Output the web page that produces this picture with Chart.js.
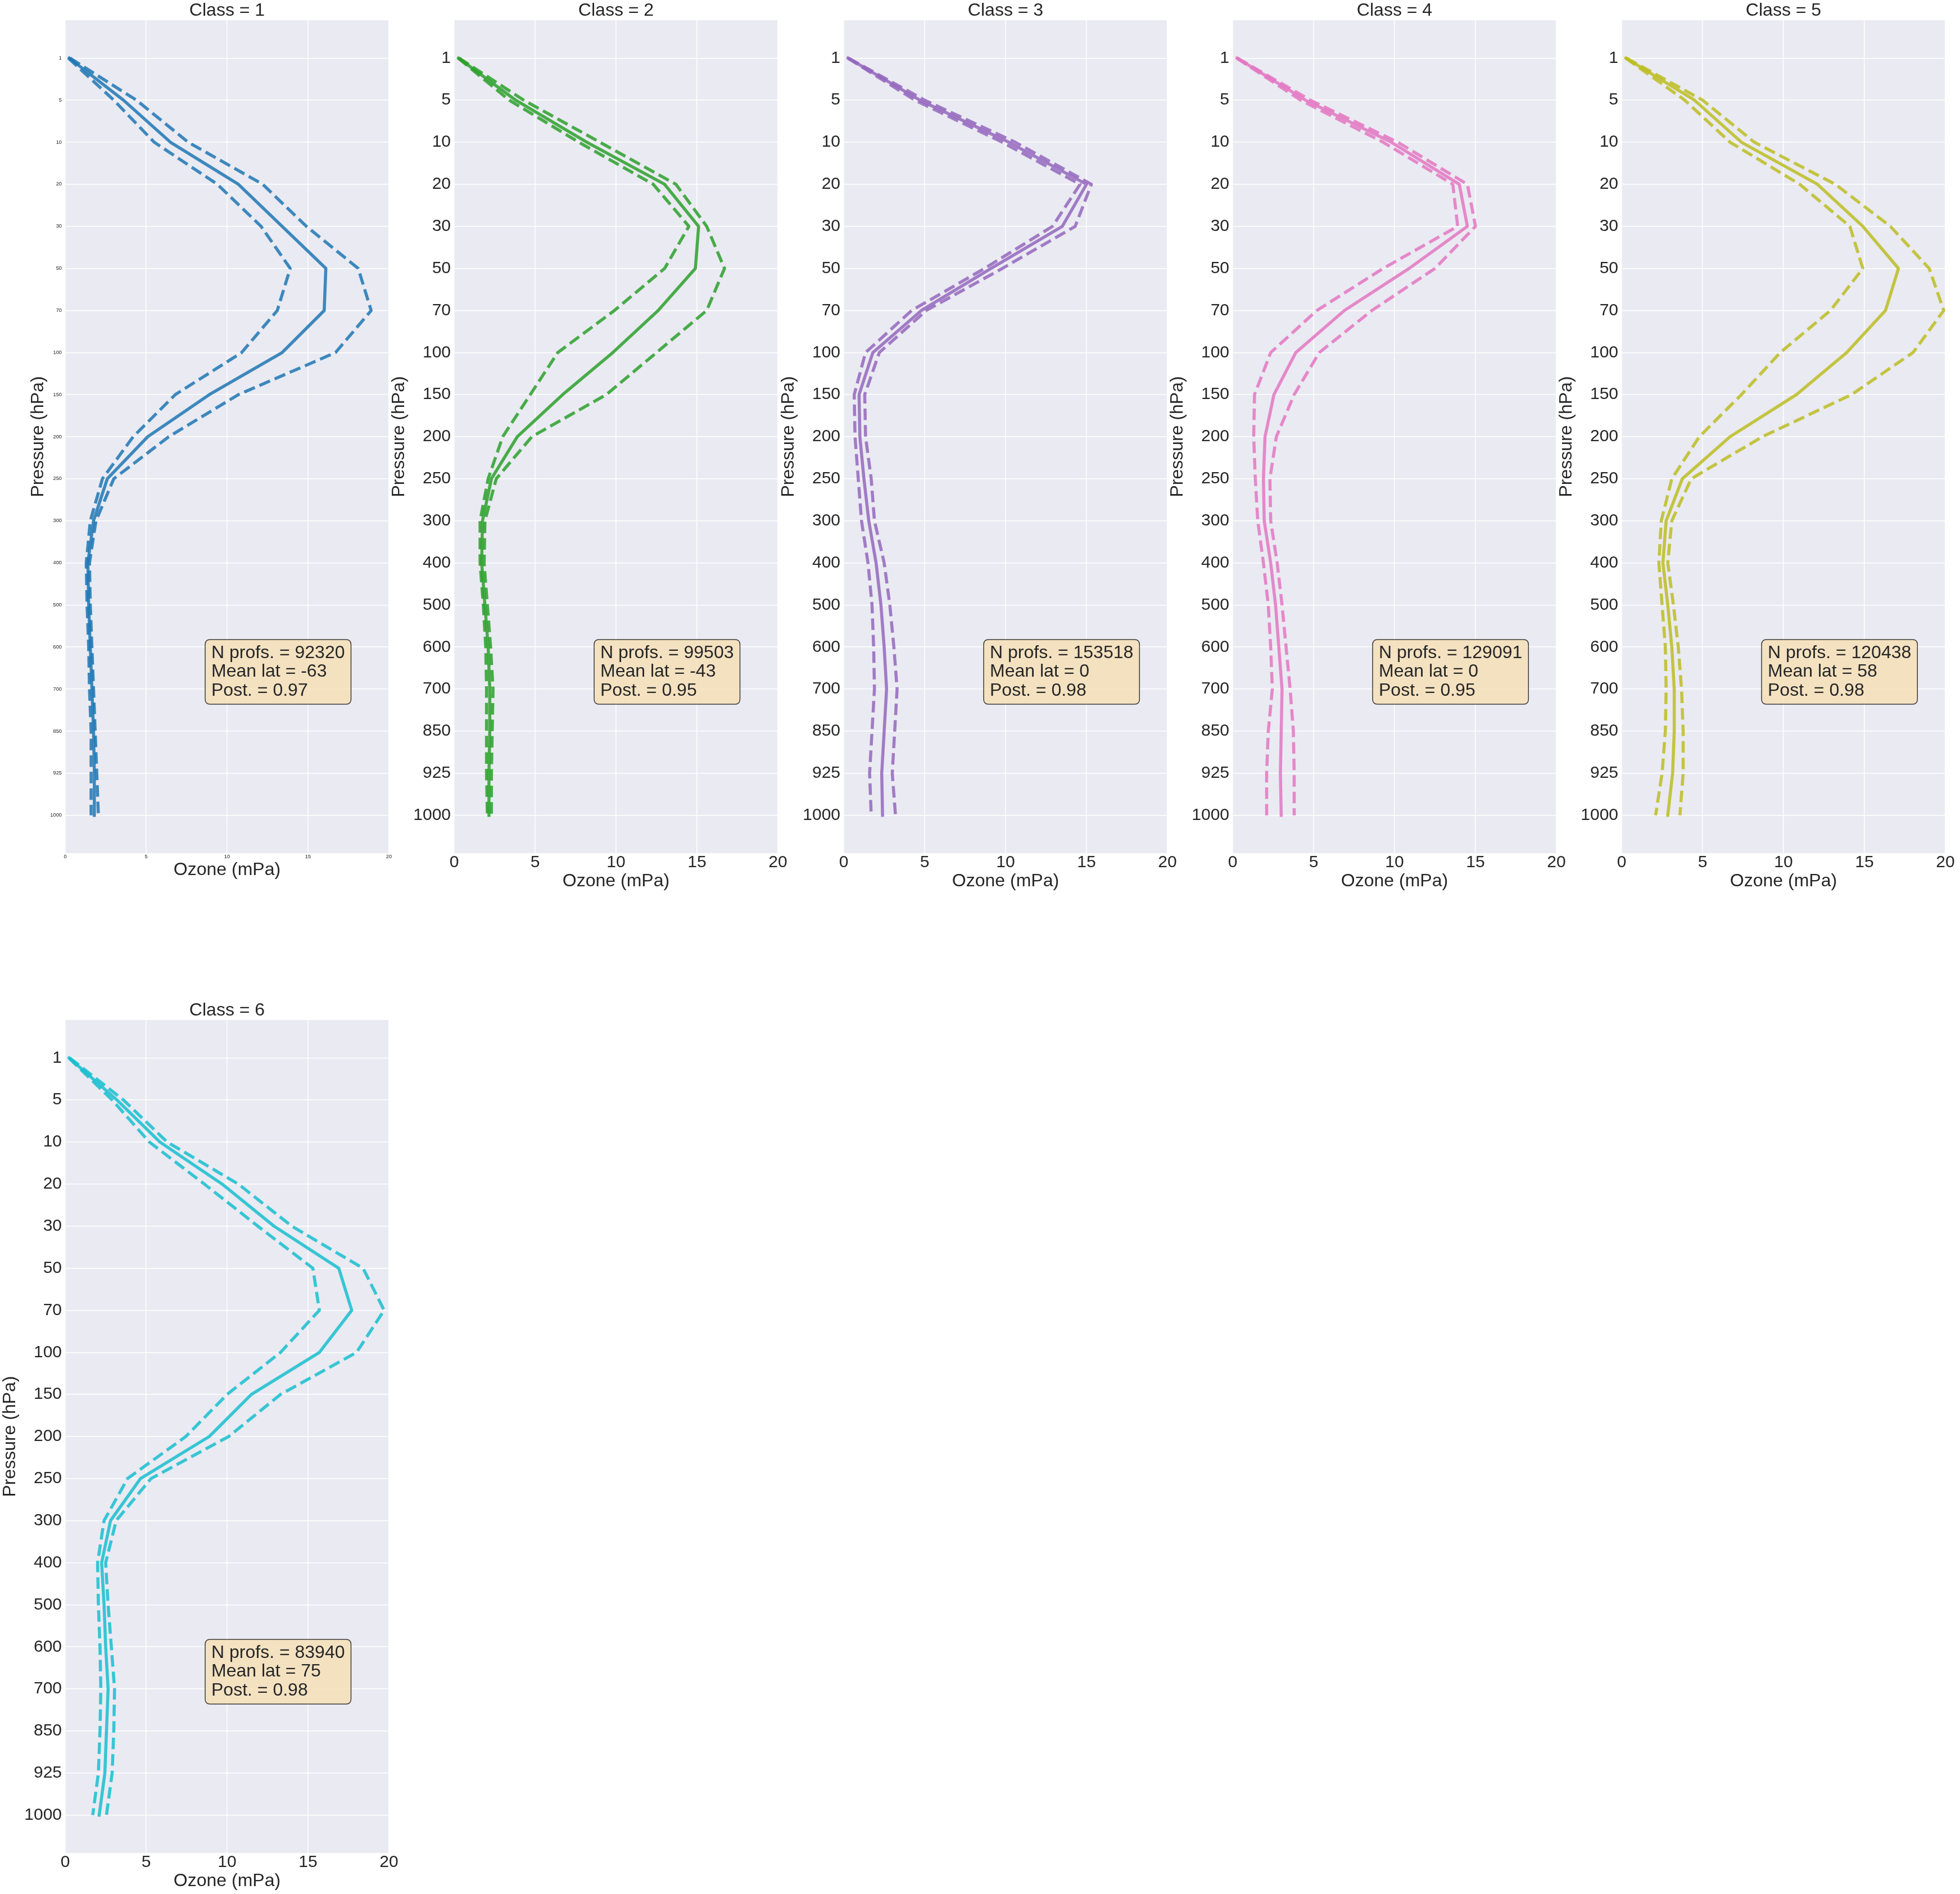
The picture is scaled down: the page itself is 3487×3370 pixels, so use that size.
<!DOCTYPE html>
<html>
<head>
<meta charset="utf-8">
<script src="https://cdn.jsdelivr.net/npm/chart.js@4.4.0/dist/chart.umd.min.js"></script>
<style>
html, body { margin:0; padding:0; background:#ffffff; width:3487px; height:3370px; overflow:hidden; position:relative; }
canvas { position:absolute; }
</style>
</head>
<body>
<script>
// ---------------- data ----------------
const pressureLevels = ['1','5','10','20','30','50','70','100','150','200','250','300','400','500','600','700','850','925','1000'];
const xTickValues = [0, 5, 10, 15, 20];
const classNames = ['1','2','3','4','5','6'];

const meanC1  = [0.25, 3.6, 6.5, 10.7, 13.4, 16.1, 16.0, 13.4, 8.9, 5.1, 2.6, 1.75, 1.4, 1.45, 1.55, 1.65, 1.75, 1.8, 1.8];
const lowerC1 = [0.2, 3.0, 5.5, 9.4, 12.1, 13.9, 13.1, 10.9, 6.8, 4.2, 2.3, 1.55, 1.3, 1.35, 1.45, 1.5, 1.6, 1.6, 1.6];
const upperC1 = [0.3, 4.4, 7.6, 12.2, 14.9, 18.1, 18.9, 16.7, 10.7, 6.4, 3.0, 1.9, 1.5, 1.55, 1.65, 1.75, 1.85, 1.95, 2.05];

const meanC2  = [0.27, 3.8, 8.2, 13.0, 15.1, 14.9, 12.6, 9.8, 6.7, 3.9, 2.3, 1.75, 1.7, 1.9, 2.1, 2.2, 2.2, 2.15, 2.15];
const lowerC2 = [0.25, 3.4, 7.7, 12.3, 14.5, 13.0, 9.9, 6.4, 4.7, 3.0, 2.1, 1.6, 1.6, 1.8, 1.95, 2.0, 2.0, 2.0, 2.05];
const upperC2 = [0.3, 4.3, 9.0, 13.7, 15.6, 16.7, 15.6, 12.5, 9.4, 4.8, 2.6, 1.9, 1.85, 2.05, 2.25, 2.4, 2.35, 2.3, 2.3];

const meanC3  = [0.27, 4.7, 10.2, 15.0, 13.5, 9.1, 4.8, 1.8, 0.95, 1.0, 1.25, 1.55, 2.0, 2.3, 2.5, 2.65, 2.5, 2.35, 2.4];
const lowerC3 = [0.25, 4.4, 9.8, 14.6, 12.9, 8.7, 4.2, 1.35, 0.65, 0.7, 0.9, 1.1, 1.5, 1.75, 1.85, 1.9, 1.75, 1.6, 1.7];
const upperC3 = [0.3, 5.0, 10.6, 15.3, 14.3, 9.8, 5.1, 2.2, 1.3, 1.35, 1.7, 1.9, 2.5, 2.85, 3.1, 3.3, 3.15, 3.0, 3.2];

const meanC4  = [0.27, 4.5, 9.8, 14.0, 14.5, 10.9, 6.9, 3.9, 2.55, 2.0, 1.9, 1.95, 2.35, 2.65, 2.85, 3.05, 3.0, 2.95, 3.0];
const lowerC4 = [0.25, 4.2, 9.3, 13.6, 13.9, 9.3, 5.2, 2.35, 1.35, 1.3, 1.4, 1.55, 1.9, 2.2, 2.35, 2.45, 2.2, 2.1, 2.1];
const upperC4 = [0.3, 4.8, 10.2, 14.5, 15.0, 12.5, 8.6, 5.35, 3.8, 2.7, 2.3, 2.35, 2.75, 3.05, 3.3, 3.55, 3.75, 3.8, 3.8];

const meanC5  = [0.26, 4.5, 7.4, 12.1, 14.9, 17.1, 16.3, 13.9, 10.8, 6.7, 3.75, 2.75, 2.55, 2.85, 3.1, 3.25, 3.25, 3.15, 2.85];
const lowerC5 = [0.25, 3.9, 6.7, 11.0, 14.1, 14.9, 12.9, 9.8, 7.4, 4.8, 3.1, 2.45, 2.3, 2.5, 2.7, 2.75, 2.7, 2.5, 2.1];
const upperC5 = [0.3, 5.0, 8.2, 13.2, 16.6, 19.0, 19.9, 18.0, 14.2, 8.7, 4.3, 3.1, 2.85, 3.2, 3.5, 3.7, 3.8, 3.8, 3.6];

const meanC6  = [0.24, 3.2, 5.85, 9.7, 12.9, 16.9, 17.7, 15.7, 11.5, 8.9, 4.65, 2.8, 2.25, 2.4, 2.5, 2.65, 2.55, 2.45, 2.1];
const lowerC6 = [0.22, 2.9, 5.2, 8.6, 11.9, 15.3, 15.7, 13.3, 10.0, 7.45, 3.85, 2.4, 2.0, 2.05, 2.15, 2.2, 2.15, 2.05, 1.7];
const upperC6 = [0.28, 3.6, 6.3, 10.7, 14.0, 18.4, 19.7, 18.0, 13.3, 10.1, 5.3, 3.15, 2.5, 2.65, 2.85, 3.05, 3.0, 2.9, 2.55];

const nProfs    = ['92320', '99503', '153518', '129091', '120438', '83940'];
const meanLat   = ['-63', '-43', '0', '0', '58', '75'];
const posterior = ['0.97', '0.95', '0.98', '0.95', '0.98', '0.98'];

const lineColors = ['#1f77b4', '#2ca02c', '#9467bd', '#e377c2', '#bcbd22', '#17becf'];

const meanSeries  = [meanC1, meanC2, meanC3, meanC4, meanC5, meanC6];
const lowerSeries = [lowerC1, lowerC2, lowerC3, lowerC4, lowerC5, lowerC6];
const upperSeries = [upperC1, upperC2, upperC3, upperC4, upperC5, upperC6];

// ---------------- layout ----------------
const PLOT_W = 576, PLOT_H = 1482;
const plotLefts = [116, 808, 1501, 2193, 2885, 116];
const plotTops  = [36, 36, 36, 36, 36, 1815];
const LEFT_M = 116, TOP_M = 36, RIGHT_M = 30, BOTTOM_M = 70;
const FONT = "'Liberation Sans', Arial, sans-serif";
const TEXT_COLOR = '#262626';

Chart.defaults.font.family = FONT;
Chart.defaults.color = TEXT_COLOR;

function rgba(hex, a) {
  const r = parseInt(hex.slice(1,3),16), g = parseInt(hex.slice(3,5),16), b = parseInt(hex.slice(5,7),16);
  return `rgba(${r},${g},${b},${a})`;
}

const bgPlugin = {
  id: 'bgPlugin',
  beforeDraw(chart) {
    const {ctx, chartArea: a} = chart;
    ctx.save();
    ctx.fillStyle = '#EAEAF2';
    ctx.fillRect(a.left, a.top, a.right - a.left, a.bottom - a.top);
    ctx.restore();
  }
};

const statBox = {
  id: 'statbox',
  afterDatasetsDraw(chart, args, opts) {
    const {ctx, chartArea: a} = chart;
    const lines = opts.lines || [];
    ctx.save();
    ctx.font = '32px ' + FONT;
    let maxW = 0;
    lines.forEach(l => { maxW = Math.max(maxW, ctx.measureText(l).width); });
    const x0 = a.left + 249, y0 = a.top + 1102;
    const w = maxW + 22, h = 115, r = 9;
    ctx.beginPath();
    ctx.moveTo(x0 + r, y0);
    ctx.lineTo(x0 + w - r, y0);
    ctx.quadraticCurveTo(x0 + w, y0, x0 + w, y0 + r);
    ctx.lineTo(x0 + w, y0 + h - r);
    ctx.quadraticCurveTo(x0 + w, y0 + h, x0 + w - r, y0 + h);
    ctx.lineTo(x0 + r, y0 + h);
    ctx.quadraticCurveTo(x0, y0 + h, x0, y0 + h - r);
    ctx.lineTo(x0, y0 + r);
    ctx.quadraticCurveTo(x0, y0, x0 + r, y0);
    ctx.closePath();
    ctx.fillStyle = 'rgba(245,222,179,0.8)';
    ctx.fill();
    ctx.lineWidth = 1.5;
    ctx.strokeStyle = 'rgba(0,0,0,0.75)';
    ctx.stroke();
    ctx.fillStyle = TEXT_COLOR;
    ctx.textAlign = 'left';
    ctx.textBaseline = 'alphabetic';
    lines.forEach((l, k) => { ctx.fillText(l, x0 + 11, y0 + 33 + k * 33.3); });
    ctx.restore();
  }
};

function makeSeries(vals) {
  return vals.map((v, i) => ({x: v, y: i}));
}

for (let c = 0; c < 6; c++) {
  const cv = document.createElement('canvas');
  const W = LEFT_M + PLOT_W + RIGHT_M, H = TOP_M + PLOT_H + BOTTOM_M;
  cv.width = W; cv.height = H;
  cv.style.width = W + 'px'; cv.style.height = H + 'px';
  cv.style.left = (plotLefts[c] - LEFT_M) + 'px';
  cv.style.top = (plotTops[c] - TOP_M) + 'px';
  document.body.appendChild(cv);

  const small = (c === 0);
  const tickSize = small ? 9.3 : 30;
  const col = rgba(lineColors[c], 0.85);
  const common = {showLine: true, pointRadius: 0, pointHoverRadius: 0, borderColor: col, backgroundColor: col,
                  borderWidth: 5.5, borderJoinStyle: 'round', tension: 0, fill: false};

  new Chart(cv, {
    type: 'scatter',
    data: {
      datasets: [
        Object.assign({label: 'mean', data: makeSeries(meanSeries[c]), borderCapStyle: 'square'}, common),
        Object.assign({label: 'lower', data: makeSeries(lowerSeries[c]), borderDash: [20.5, 8.9], borderCapStyle: 'butt'}, common),
        Object.assign({label: 'upper', data: makeSeries(upperSeries[c]), borderDash: [20.5, 8.9], borderCapStyle: 'butt'}, common)
      ]
    },
    options: {
      responsive: false,
      animation: false,
      devicePixelRatio: 1,
      events: [],
      layout: {padding: {top: 3, right: RIGHT_M, bottom: 0, left: 0}},
      plugins: {
        legend: {display: false},
        tooltip: {enabled: false},
        title: {display: true, fullSize: false, text: 'Class = ' + classNames[c],
                font: {size: 32, lineHeight: 1, weight: 'normal', family: FONT},
                color: TEXT_COLOR, padding: {top: 0, bottom: 1}},
        statbox: {lines: ['N profs. = ' + nProfs[c], 'Mean lat = ' + meanLat[c], 'Post. = ' + posterior[c]]}
      },
      scales: {
        x: {
          type: 'linear', position: 'bottom', min: 0, max: 20,
          afterBuildTicks: (s) => { s.ticks = xTickValues.map(v => ({value: v})); },
          ticks: {autoSkip: false, font: {size: tickSize, lineHeight: 1}, color: TEXT_COLOR, padding: 2, maxRotation: 0},
          grid: {color: '#ffffff', lineWidth: 1.5, drawTicks: false},
          border: {display: false},
          title: {display: true, text: 'Ozone (mPa)', font: {size: 32, lineHeight: 1}, color: TEXT_COLOR,
                  padding: {top: 0, bottom: small ? 24 : 4}},
          afterFit: (s) => { s.height = BOTTOM_M; }
        },
        y: {
          type: 'linear', position: 'left', min: -0.9, max: 18.9, reverse: true, bounds: 'data',
          afterBuildTicks: (s) => { s.ticks = pressureLevels.map((_, i) => ({value: i})); },
          ticks: {autoSkip: false, font: {size: tickSize, lineHeight: 1}, color: TEXT_COLOR, padding: 6,
                  callback: (v) => pressureLevels[Math.round(v)]},
          grid: {color: '#ffffff', lineWidth: 1.5, drawTicks: false},
          border: {display: false},
          title: {display: true, text: 'Pressure (hPa)', font: {size: 32, lineHeight: 1}, color: TEXT_COLOR,
                  padding: {top: small ? 52 : 2, bottom: 0}},
          afterFit: (s) => { s.width = LEFT_M; }
        }
      }
    },
    plugins: [bgPlugin, statBox]
  });
}
</script>
</body>
</html>
